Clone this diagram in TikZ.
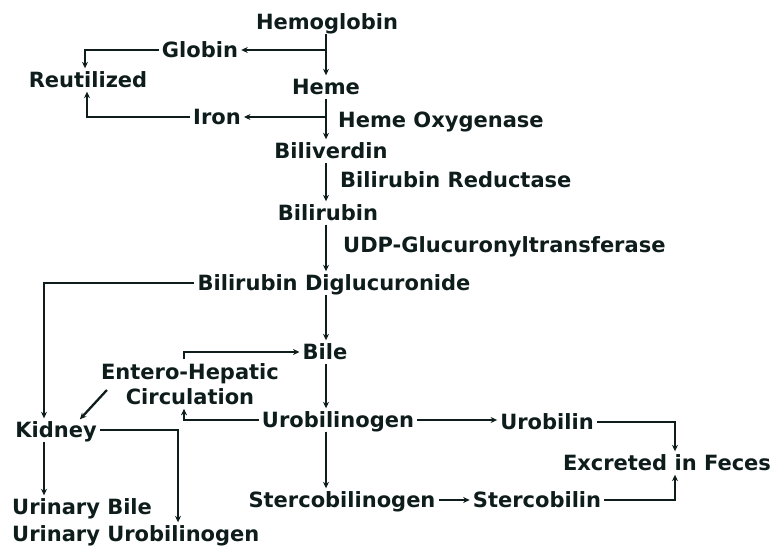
\documentclass[tikz,border=0pt]{standalone}
\usepackage{fontspec}
\setmainfont{DejaVu Sans}
\usepackage{tikz}
\usetikzlibrary{positioning,arrows.meta}
\definecolor{ink}{HTML}{0E1C1C}

\begin{document}
\begin{tikzpicture}[x=1pt,y=-1pt,
  font=\fontsize{21}{25}\selectfont\bfseries,text=ink,
  lbl/.style={inner xsep=3pt,inner ysep=4pt,text height=15pt,text depth=0pt},
  arr/.style={draw=ink,line width=2.3pt,-{Stealth[length=6.5pt,width=6pt]}}]
\useasboundingbox (0,0) rectangle (772,548);
\coordinate (col) at (326,0);
\coordinate (kcol) at (44,0);
\coordinate (ucol) at (178,0);
\coordinate (ecol) at (184,0);
\coordinate (fcol) at (675,0);
\node[lbl] (hb) at (327,22) {Hemoglobin};
\node[lbl] (globin) at (200,50) {Globin};
\node[lbl] (reut) at (88,80) {Reutilized};
\node[lbl] (heme) at (326,87) {Heme};
\node[lbl] (iron) at (217,117) {Iron};
\node[lbl,anchor=west] (hox) at (335,120) {Heme Oxygenase};
\node[lbl] (bv) at (331,151) {Biliverdin};
\node[lbl,anchor=west] (brd) at (337,180) {Bilirubin Reductase};
\node[lbl] (br) at (328,213) {Bilirubin};
\node[lbl,anchor=west] (udp) at (340,245) {UDP-Glucuronyltransferase};
\node[lbl] (bdg) at (334,283) {Bilirubin Diglucuronide};
\node[lbl] (bile) at (325,352) {Bile};
\node[inner xsep=3pt,inner ysep=4pt,align=center] (ehc) at (190,384) {Entero-Hepatic\\Circulation};
\node[lbl] (ubg) at (338,420) {Urobilinogen};
\node[lbl] (kid) at (56,430) {Kidney};
\node[lbl] (urob) at (547,422) {Urobilin};
\node[lbl] (fec) at (667,463) {Excreted in Feces};
\node[lbl] (sbg) at (342,500) {Stercobilinogen};
\node[lbl] (sb) at (537,500) {Stercobilin};
\node[lbl,anchor=west] (ubile) at (9,507) {Urinary Bile};
\node[lbl,anchor=west] (uubg) at (9,534) {Urinary Urobilinogen};
\draw[arr] (hb.south -| col) -- (heme.north -| col);
\draw[arr] (globin.east -| col) -- (globin.east);
\draw[arr] (globin.west) -| ([xshift=-3pt]reut.north);
\draw[arr] (heme.south -| col) -- (bv.north -| col);
\draw[arr] (iron.east -| col) -- (iron.east);
\draw[arr] (iron.west) -| ([xshift=-1pt]reut.south);
\draw[arr] (bv.south -| col) -- (br.north -| col);
\draw[arr] (br.south -| col) -- (bdg.north -| col);
\draw[arr] (bdg.south -| col) -- (bile.north -| col);
\draw[arr] (bdg.west) -| (kid.north -| kcol);
\draw[arr] (bile.south -| col) -- (ubg.north -| col);
\draw[arr] (ehc.north -| ecol) |- (bile.west);
\draw[arr] (ubg.west) -| (ehc.south -| ecol);
\draw[arr] ([xshift=9pt,yshift=-6pt]ehc.west) -- ([xshift=-20pt,yshift=-1pt]kid.north east);
\draw[arr] (kid.south -| kcol) -- (ubile.north -| kcol);
\draw[arr] (kid.east) -| (uubg.north -| ucol);
\draw[arr] (ubg.east) -- (ubg.east -| urob.west);
\draw[arr] (urob.east) -| (fec.north -| fcol);
\draw[arr] (ubg.south -| col) -- (sbg.north -| col);
\draw[arr] (sbg.east) -- (sb.west);
\draw[arr] (sb.east) -| (fec.south -| fcol);
\end{tikzpicture}
\end{document}
